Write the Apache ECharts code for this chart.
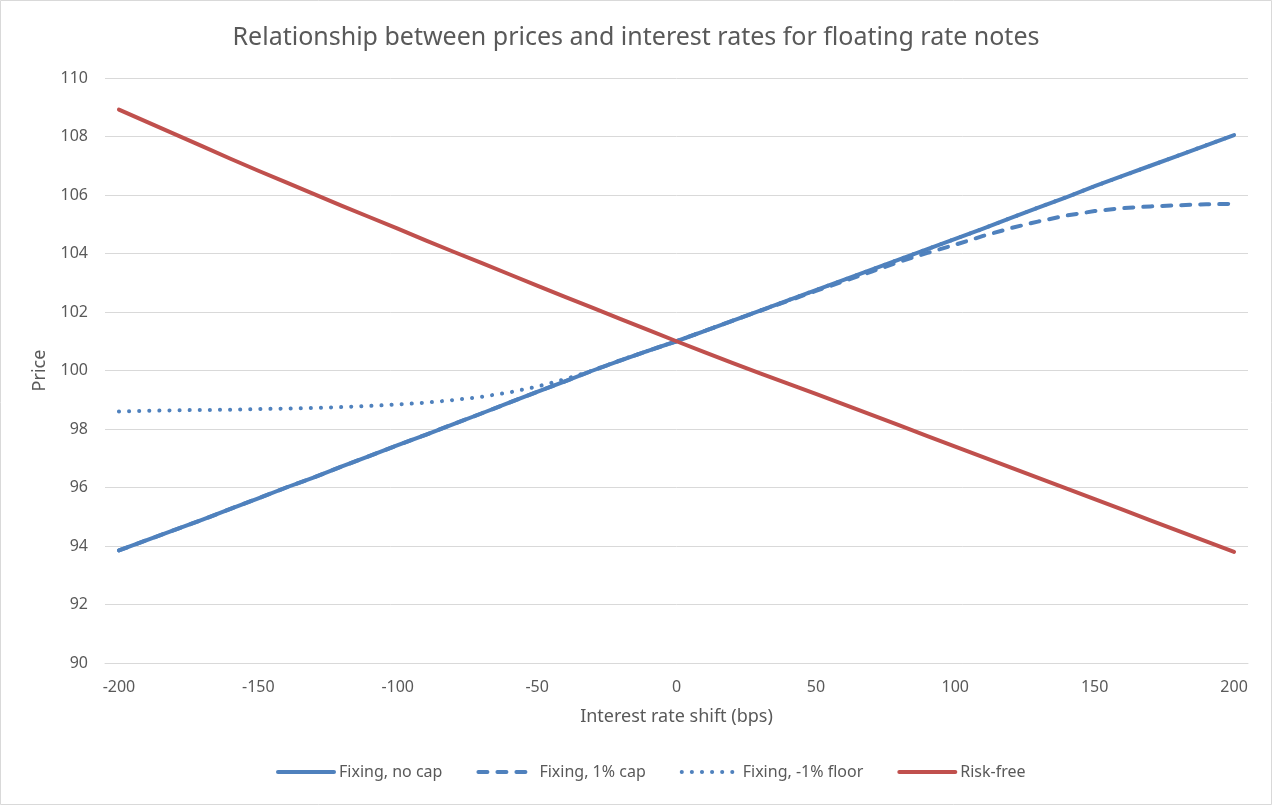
<!DOCTYPE html>
<html>
<head>
<meta charset="utf-8">
<title>Floating rate notes</title>
<script src="https://cdn.jsdelivr.net/npm/echarts@6/dist/echarts.min.js"></script>
<style>
    html, body { margin: 0; padding: 0; background: #fff; }
    #main { width: 1272px; height: 805px; }
</style>
</head>
<body>
<div id="main"></div>
<script>
// shift in bps (one category every 10 bps)
var shifts = [-200, -190, -180, -170, -160, -150, -140, -130, -120, -110,
              -100, -90, -80, -70, -60, -50, -40, -30, -20, -10,
              0, 10, 20, 30, 40, 50, 60, 70, 80, 90,
              100, 110, 120, 130, 140, 150, 160, 170, 180, 190, 200];

var noCap = [93.85, 94.20, 94.55, 94.90, 95.27, 95.63, 96.00, 96.35, 96.72, 97.08,
             97.45, 97.80, 98.17, 98.53, 98.90, 99.27, 99.63, 100.00, 100.35, 100.68,
             101.00, 101.35, 101.70, 102.05, 102.40, 102.75, 103.10, 103.45, 103.80, 104.15,
             104.50, 104.85, 105.22, 105.58, 105.93, 106.30, 106.65, 107.00, 107.35, 107.70, 108.05];

var cap1 = [93.85, 94.20, 94.55, 94.90, 95.27, 95.63, 96.00, 96.35, 96.72, 97.08,
            97.45, 97.80, 98.17, 98.53, 98.90, 99.27, 99.63, 100.00, 100.35, 100.68,
            101.00, 101.35, 101.70, 102.04, 102.38, 102.72, 103.05, 103.38, 103.72, 104.02,
            104.30, 104.60, 104.87, 105.10, 105.30, 105.45, 105.55, 105.61, 105.65, 105.68, 105.70];

var floor1 = [98.60, 98.62, 98.64, 98.65, 98.66, 98.68, 98.70, 98.72, 98.75, 98.79,
              98.84, 98.90, 98.99, 99.10, 99.25, 99.45, 99.70, 100.00, 100.36, 100.68,
              101.00, 101.35, 101.70, 102.05, 102.40, 102.75, 103.10, 103.45, 103.80, 104.15,
              104.50, 104.85, 105.22, 105.58, 105.93, 106.30, 106.65, 107.00, 107.35, 107.70, 108.05];

var riskFree = [108.92, 108.50, 108.08, 107.66, 107.24, 106.83, 106.43, 106.03, 105.63, 105.24,
                104.85, 104.45, 104.06, 103.68, 103.29, 102.90, 102.52, 102.14, 101.76, 101.38,
                101.00, 100.63, 100.26, 99.90, 99.55, 99.20, 98.84, 98.48, 98.12, 97.76,
                97.40, 97.04, 96.68, 96.32, 95.96, 95.60, 95.24, 94.88, 94.52, 94.16, 93.80];

var seriesNames = ['Fixing, no cap', 'Fixing, 1% cap', 'Fixing, -1% floor', 'Risk-free'];

var blue = '#4f81bd';
var red = '#c0504d';
var textColor = '#595959';
var font = 'Noto Sans';

var myChart = echarts.init(document.getElementById('main'));

option = {
    animation: false,
    backgroundColor: '#fff',
    graphic: [{
        type: 'rect',
        shape: { x: 0.5, y: 0.5, width: 1271, height: 804 },
        style: { fill: 'none', stroke: '#d9d9d9', lineWidth: 1 },
        silent: true
    }],
    title: {
        text: 'Relationship between prices and interest rates for floating rate notes',
        left: 'center',
        top: 20,
        textStyle: {
            color: textColor,
            fontFamily: font,
            fontSize: 25,
            fontWeight: 'normal'
        }
    },
    legend: {
        bottom: 20,
        left: 271,
        itemWidth: 56,
        itemHeight: 14,
        itemGap: 34,
        data: seriesNames,
        itemStyle: { opacity: 0 },
        lineStyle: { width: 4 },
        textStyle: {
            color: textColor,
            fontFamily: font,
            fontSize: 16
        }
    },
    grid: {
        left: 105,
        right: 24,
        top: 78,
        bottom: 142
    },
    xAxis: {
        type: 'category',
        data: shifts,
        boundaryGap: true,
        name: 'Interest rate shift (bps)',
        nameLocation: 'middle',
        nameGap: 45,
        nameTextStyle: { color: textColor, fontFamily: font, fontSize: 18 },
        axisLine: { lineStyle: { color: '#d9d9d9', width: 1 } },
        axisTick: { show: false },
        axisLabel: {
            interval: 4,
            margin: 16,
            color: textColor,
            fontFamily: font,
            fontSize: 16
        }
    },
    yAxis: {
        type: 'value',
        min: 90,
        max: 110,
        interval: 2,
        name: 'Price',
        nameLocation: 'middle',
        nameGap: 56,
        nameTextStyle: { color: textColor, fontFamily: font, fontSize: 18 },
        axisLine: { show: false },
        axisTick: { show: false },
        axisLabel: {
            margin: 17,
            color: textColor,
            fontFamily: font,
            fontSize: 16
        },
        splitLine: { lineStyle: { color: '#d9d9d9', width: 1 } }
    },
    series: [
        {
            name: seriesNames[0],
            type: 'line',
            data: noCap,
            symbol: 'none',
            z: 3,
            itemStyle: { color: blue },
            lineStyle: { color: blue, width: 4, cap: 'round', join: 'round' }
        },
        {
            name: seriesNames[1],
            type: 'line',
            data: cap1,
            symbol: 'none',
            z: 2,
            itemStyle: { color: blue },
            lineStyle: { color: blue, width: 4, type: [9, 10], cap: 'round', join: 'round' }
        },
        {
            name: seriesNames[2],
            type: 'line',
            data: floor1,
            symbol: 'none',
            z: 2,
            itemStyle: { color: blue },
            lineStyle: { color: blue, width: 4, type: [0.1, 10], cap: 'round', join: 'round' }
        },
        {
            name: seriesNames[3],
            type: 'line',
            data: riskFree,
            symbol: 'none',
            z: 4,
            itemStyle: { color: red },
            lineStyle: { color: red, width: 4, cap: 'round', join: 'round' }
        }
    ]
};

myChart.setOption(option);
</script>
</body>
</html>
